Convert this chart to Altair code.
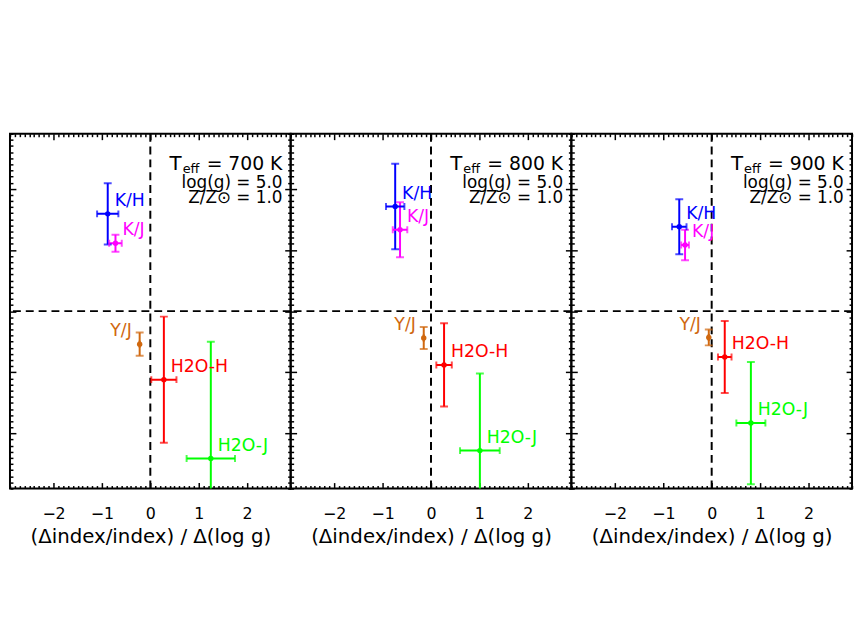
import altair as alt
import pandas as pd

# ---------------- data ----------------
indices = ["K/H", "K/J", "Y/J", "H2O-H", "H2O-J"]
colors = ["#0000ff", "#ff00ff", "#d0680f", "#ff0000", "#00ff00"]
temps = [700, 800, 900]
logg_txt = "5.0"
z_txt = "1.0"

x_700 = [-0.88, -0.72, -0.22, 0.28, 1.25]
xerr_700 = [0.22, 0.13, 0.0, 0.26, 0.50]
y_700 = [1.59, 1.11, -0.54, -1.12, -2.41]
yerr_700 = [0.50, 0.14, 0.19, 1.03, 1.91]

x_800 = [-0.74, -0.64, -0.15, 0.27, 1.01]
xerr_800 = [0.19, 0.15, 0.0, 0.16, 0.41]
y_800 = [1.71, 1.33, -0.44, -0.88, -2.28]
yerr_800 = [0.70, 0.45, 0.18, 0.68, 1.26]

x_900 = [-0.67, -0.55, -0.06, 0.27, 0.81]
xerr_900 = [0.15, 0.08, 0.0, 0.14, 0.30]
y_900 = [1.38, 1.08, -0.43, -0.75, -1.83]
yerr_900 = [0.45, 0.25, 0.13, 0.59, 1.00]

major_ticks = [-2, -1, 0, 1, 2]
minor_ticks = [round(k / 10, 1) for k in range(-29, 30) if k % 10 != 0]

DOMAIN = [-2.9, 2.9]
x_title = "(\u0394index/index) / \u0394(log g)"

series = {
    700: (x_700, xerr_700, y_700, yerr_700),
    800: (x_800, xerr_800, y_800, yerr_800),
    900: (x_900, xerr_900, y_900, yerr_900),
}

FONT = "DejaVu Sans"
W, H = 284, 359


def make_axis(orient, values, size, labels=False, title=None):
    kw = dict(
        orient=orient, values=values, tickSize=size, offset=-size,
        domain=False, grid=False, labels=labels, tickColor="black",
        tickWidth=1.5,
    )
    if labels:
        kw.update(labelFont=FONT, labelFontSize=16, labelColor="black",
                  labelPadding=17, labelFlush=False)
    if title:
        kw.update(title=title, titleFont=FONT, titleFontSize=20,
                  titleFontWeight="normal", titleColor="black",
                  titlePadding=6)
    else:
        kw.update(title=None)
    return alt.Axis(**kw)


def panel(t):
    xs, xe, ys, ye = series[t]
    df = pd.DataFrame({
        "index": indices, "x": xs, "y": ys,
        "xlo": [a - b for a, b in zip(xs, xe)],
        "xhi": [a + b for a, b in zip(xs, xe)],
        "ylo": [a - b for a, b in zip(ys, ye)],
        "yhi": [a + b for a, b in zip(ys, ye)],
    })
    xsc = alt.Scale(domain=DOMAIN, nice=False, zero=False)
    ysc = alt.Scale(domain=DOMAIN, nice=False, zero=False)
    col = alt.Color("index:N", scale=alt.Scale(domain=indices, range=colors), legend=None)
    base = alt.Chart(df)

    def X(field, axis=None):
        return alt.X(field, type="quantitative", scale=xsc, axis=axis)

    def Y(field, axis=None):
        return alt.Y(field, type="quantitative", scale=ysc, axis=axis)

    zero = pd.DataFrame({"v": [0]})
    vrule = alt.Chart(zero).mark_rule(color="black", strokeWidth=2, strokeDash=[8, 5]).encode(
        x=X("v", make_axis("bottom", major_ticks, 6, labels=True, title=x_title)))
    hrule = alt.Chart(zero).mark_rule(color="black", strokeWidth=2, strokeDash=[8, 5]).encode(
        y=Y("v", make_axis("left", major_ticks, 6)))

    yerr = base.mark_rule(strokeWidth=2, clip=True).encode(
        x=X("x", make_axis("bottom", minor_ticks, 3)),
        y=Y("ylo", make_axis("left", minor_ticks, 3)), y2="yhi", color=col)
    xerr = base.mark_rule(strokeWidth=2, clip=True).encode(
        x=X("xlo", make_axis("top", major_ticks, 6)), x2="xhi",
        y=Y("y", make_axis("right", major_ticks, 6)), color=col)
    ycap_lo = base.mark_tick(orient="horizontal", size=8, thickness=2, clip=True).encode(
        x=X("x", make_axis("top", minor_ticks, 3)),
        y=Y("ylo", make_axis("right", minor_ticks, 3)), color=col)
    ycap_hi = base.mark_tick(orient="horizontal", size=8, thickness=2, clip=True).encode(
        x=X("x"), y=Y("yhi"), color=col)
    xcap_lo = base.mark_tick(orient="vertical", size=7, thickness=2, clip=True).encode(
        x=X("xlo"), y=Y("y"), color=col)
    xcap_hi = base.mark_tick(orient="vertical", size=7, thickness=2, clip=True).encode(
        x=X("xhi"), y=Y("y"), color=col)
    pts = base.mark_circle(size=30, opacity=1).encode(x=X("x"), y=Y("y"), color=col)

    lab_l = base.transform_filter("datum.index != 'Y/J'").mark_text(
        align="left", baseline="middle", dx=7, dy=-13, font=FONT, fontSize=17.5).encode(
        x=X("x"), y=Y("y"), text="index:N", color=col)
    lab_r = base.transform_filter("datum.index == 'Y/J'").mark_text(
        align="right", baseline="middle", dx=-8, dy=-13, font=FONT, fontSize=17.5).encode(
        x=X("x"), y=Y("y"), text="index:N", color=col)

    ann = pd.DataFrame({
        "x": [2.73, 2.73, 2.73],
        "y": [2.30, 2.015, 1.76],
        "txt": [f"= {t} K", f"log(g) = {logg_txt}", f"Z/Z\u2299 = {z_txt}"],
        "fs": [19, 17, 17],
    })
    ann_t = alt.Chart(ann).mark_text(align="right", baseline="alphabetic",
                                     font=FONT, color="black").encode(
        x=X("x"), y=Y("y"), text="txt:N",
        size=alt.Size("fs:Q", scale=None, legend=None))
    teff = pd.DataFrame({"x": [2.73], "y": [2.30]})
    t_main = alt.Chart(teff).mark_text(align="right", baseline="alphabetic", dx=-102,
                                       font=FONT, fontSize=20, color="black", text="T").encode(
        x=X("x"), y=Y("y"))
    t_sub = alt.Chart(teff).mark_text(align="right", baseline="alphabetic", dx=-84, dy=3,
                                      font=FONT, fontSize=13, color="black", text="eff").encode(
        x=X("x"), y=Y("y"))

    return alt.layer(
        vrule, hrule, yerr, xerr, ycap_lo, ycap_hi, xcap_lo, xcap_hi, pts,
        lab_l, lab_r, ann_t, t_main, t_sub,
    ).resolve_axis(x="independent", y="independent").properties(width=W, height=H)


chart = alt.hconcat(*[panel(t) for t in temps], spacing=0, bounds="flush").properties(
    padding={"left": 0, "top": 122, "right": 0, "bottom": 0},
).configure_view(stroke="black", strokeWidth=2)

chart.save("out.html", embed_options={"renderer": "svg", "actions": False})
